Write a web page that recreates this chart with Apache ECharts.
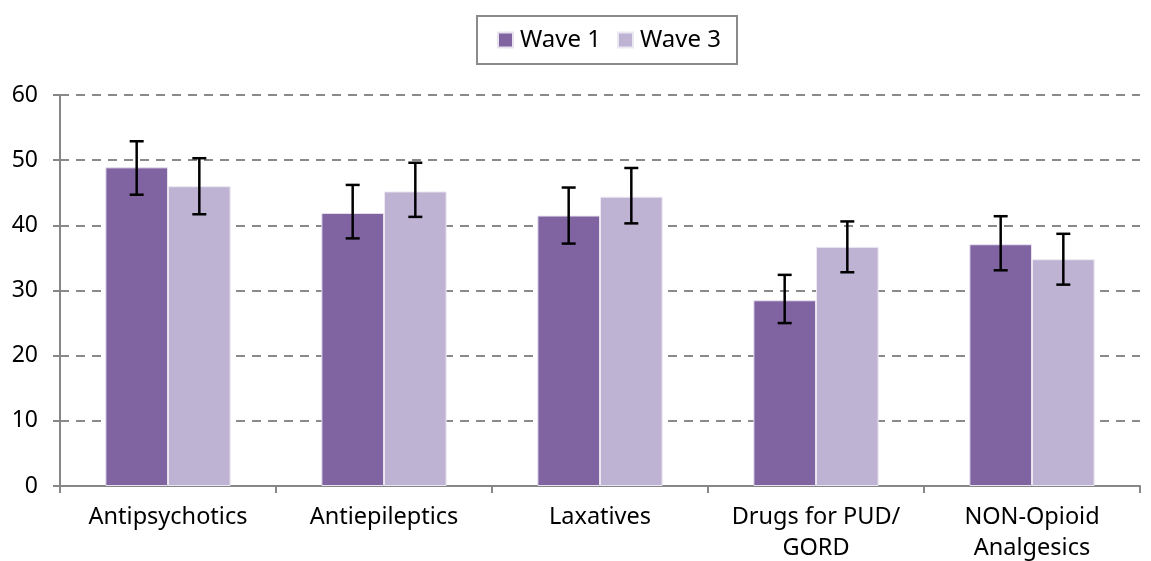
<!DOCTYPE html>
<html><head><meta charset="utf-8">
<script src="https://cdn.jsdelivr.net/npm/echarts@6/dist/echarts.min.js"></script>
<style>html,body{margin:0;padding:0;background:#fff}#c{width:1151px;height:561px}</style>
</head><body><div id="c"></div>
<script>
const categories = ['Antipsychotics','Antiepileptics','Laxatives','Drugs for PUD/\nGORD','NON-Opioid\nAnalgesics'];
const wave1 = [48.9, 41.9, 41.5, 28.5, 37.1];
const wave1Low = [44.7, 38.0, 37.2, 25.0, 33.1];
const wave1High = [52.9, 46.2, 45.8, 32.4, 41.4];
const wave3 = [46.0, 45.2, 44.4, 36.7, 34.8];
const wave3Low = [41.7, 41.3, 40.3, 32.8, 30.9];
const wave3High = [50.3, 49.6, 48.8, 40.6, 38.7];
const yTicks = [0, 10, 20, 30, 40, 50, 60];

const FONT = 'Noto Sans';
const chart = echarts.init(document.getElementById('c'));

function errSeries(low, high, side) {
  return {
    type: 'custom', z: 10,
    data: low.map((l, i) => [i, l, high[i]]),
    renderItem: function (params, api) {
      const i = api.value(0);
      const bw = api.size([1, 0])[0];
      const off = side * bw * 0.145;
      const p1 = api.coord([i, api.value(1)]);
      const p2 = api.coord([i, api.value(2)]);
      const x = p1[0] + off;
      const cap = 7;
      const st = { stroke: '#000', lineWidth: 2.5 };
      return { type: 'group', children: [
        { type: 'line', shape: { x1: x, y1: p1[1], x2: x, y2: p2[1] }, style: st },
        { type: 'line', shape: { x1: x - cap, y1: p1[1], x2: x + cap, y2: p1[1] }, style: st },
        { type: 'line', shape: { x1: x - cap, y1: p2[1], x2: x + cap, y2: p2[1] }, style: st }
      ]};
    }
  };
}

chart.setOption({
  animation: false,
  textStyle: { fontFamily: FONT },
  legend: {
    top: 16, left: 477,
    data: ['Wave 1', 'Wave 3'],
    icon: 'rect',
    itemWidth: 15, itemHeight: 15, itemGap: 16,
    padding: [12, 16, 12, 20],
    borderColor: '#8a8a8a', borderWidth: 2,
    textStyle: { fontSize: 24, color: '#000', fontFamily: FONT, padding: [0, 0, 0, 2] }
  },
  grid: { left: 60, right: 11, top: 95, bottom: 75, outerBoundsMode: 'none', containLabel: false },
  xAxis: {
    type: 'category', data: categories,
    axisLine: { lineStyle: { color: '#868686', width: 2 } },
    axisTick: { show: true, length: 7, lineStyle: { color: '#868686', width: 2 } },
    axisLabel: { fontSize: 23.5, color: '#000', margin: 16, lineHeight: 31, fontFamily: FONT, interval: 0 }
  },
  yAxis: {
    type: 'value', min: 0, max: 60, interval: 10,
    axisLine: { show: true, lineStyle: { color: '#868686', width: 2 } },
    axisTick: { show: true, length: 7, lineStyle: { color: '#868686', width: 2 } },
    axisLabel: { fontSize: 23, color: '#000', margin: 22, fontFamily: FONT,
      formatter: v => yTicks.includes(v) ? String(v) : '' },
    splitLine: { lineStyle: { color: '#8a8a8a', width: 2, type: [9, 7] } }
  },
  series: [
    { name: 'Wave 1', type: 'bar', data: wave1, barWidth: '29%', barGap: '0%',
      itemStyle: { color: '#8064A2', borderColor: '#e8e2ef', borderWidth: 1 } },
    { name: 'Wave 3', type: 'bar', data: wave3, barWidth: '29%', barGap: '0%',
      itemStyle: { color: '#BFB3D4', borderColor: '#ece8f2', borderWidth: 1 } },
    errSeries(wave1Low, wave1High, -1),
    errSeries(wave3Low, wave3High, 1)
  ]
});
</script></body></html>
